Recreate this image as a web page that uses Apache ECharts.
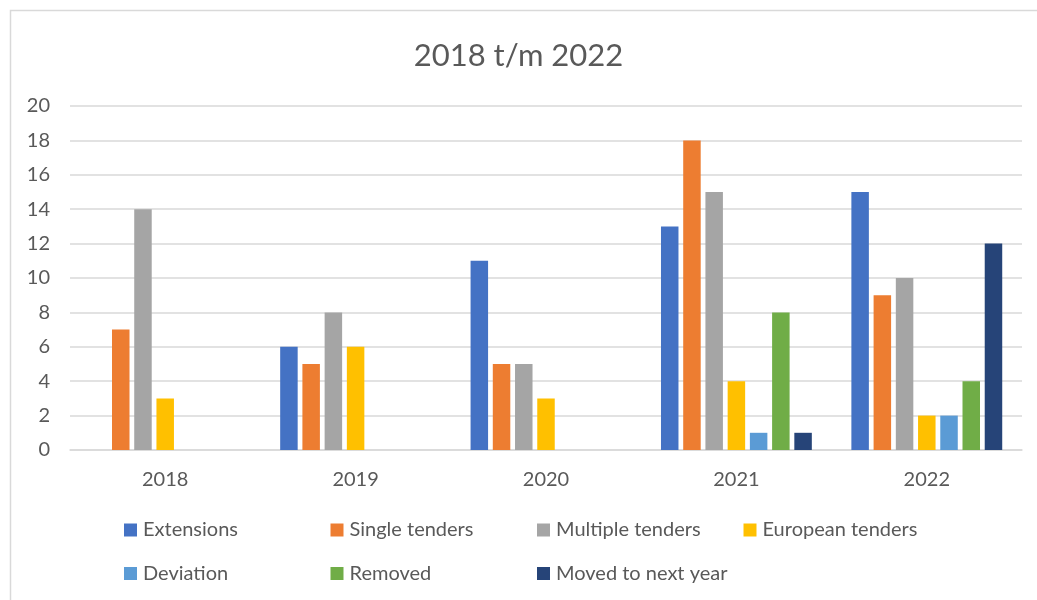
<!DOCTYPE html>
<html>
<head>
<meta charset="utf-8">
<script src="https://cdn.jsdelivr.net/npm/echarts@6/dist/echarts.min.js"></script>
<style>html,body{margin:0;padding:0;background:#fff}#c{width:1037px;height:600px}</style>
</head>
<body>
<div id="c"></div>
<script>
const categories = ['2018', '2019', '2020', '2021', '2022'];
const seriesNames = ['Extensions', 'Single tenders', 'Multiple tenders', 'European tenders', 'Deviation', 'Removed', 'Moved to next year'];
const extensions = [0, 6, 11, 13, 15];
const singleTenders = [7, 5, 5, 18, 9];
const multipleTenders = [14, 8, 5, 15, 10];
const europeanTenders = [3, 6, 3, 4, 2];
const deviation = [0, 0, 0, 1, 2];
const removed = [0, 0, 0, 8, 4];
const movedToNextYear = [0, 0, 0, 1, 12];
const colors = ['#4472C4', '#ED7D31', '#A5A5A5', '#FFC000', '#5B9BD5', '#70AD47', '#264478'];
const values = [extensions, singleTenders, multipleTenders, europeanTenders, deviation, removed, movedToNextYear];

const font = 'Lato, "Open Sans", sans-serif';
const chart = echarts.init(document.getElementById('c'), null, {renderer: 'canvas'});
chart.setOption({
  animation: false,
  color: colors,
  graphic: [{
    type: 'rect', shape: {x: 10.5, y: 10.5, width: 1100, height: 700},
    style: {fill: 'none', stroke: '#d9d9d9', lineWidth: 1.5}, z: -1
  }],
  title: {
    text: '2018 t/m 2022', left: 'center', top: 35,
    textStyle: {fontFamily: font, fontSize: 31, fontWeight: 'normal', color: '#595959'}
  },
  grid: {left: 70, right: 15, top: 106, bottom: 150},
  legend: {
    data: seriesNames, left: 119, top: 512, width: 840,
    icon: 'rect', itemWidth: 13, itemHeight: 13, itemGap: 17.5,
    textStyle: {fontFamily: font, fontSize: 20, color: '#595959', width: 170, lineHeight: 26, padding: [0, 0, 0, 1]}
  },
  xAxis: {
    type: 'category', data: categories,
    axisLine: {lineStyle: {color: '#d9d9d9', width: 1.5}},
    axisTick: {show: false},
    axisLabel: {fontFamily: font, fontSize: 20, color: '#595959', margin: 20}
  },
  yAxis: {
    type: 'value', min: 0, max: 20, interval: 2,
    axisLine: {show: false}, axisTick: {show: false},
    splitLine: {lineStyle: {color: '#d9d9d9', width: 1.5}},
    axisLabel: {fontFamily: font, fontSize: 20, color: '#595959', margin: 20}
  },
  series: seriesNames.map((n, i) => ({
    name: n, type: 'bar', data: values[i], barWidth: 17.5, barGap: '27%'
  }))
});
</script>
</body>
</html>
